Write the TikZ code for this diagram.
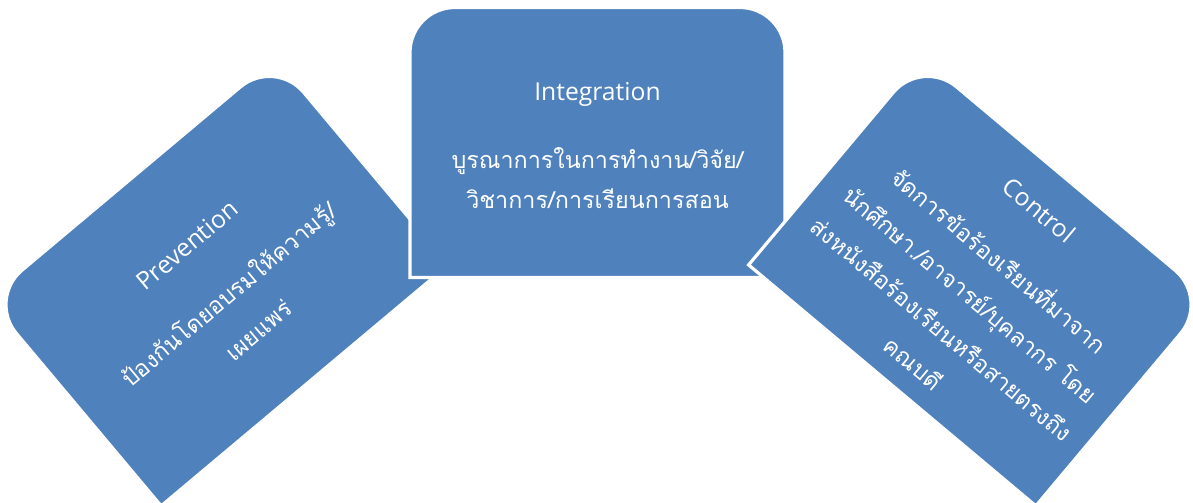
\documentclass[tikz,border=0pt]{standalone}
\usepackage{fontspec}
\setmainfont{Open Sans}
\newfontfamily\thaifont[Script=Thai]{Loma}
\definecolor{segblue}{HTML}{4F81BD}

% one segment: width 375, height 270, top corners rounded
\newcommand{\segpath}{(-187.5,-135) -- (-187.5,90) arc[start angle=180, end angle=90, radius=45]
  -- (142.5,135) arc[start angle=90, end angle=0, radius=45] -- (187.5,-135) -- cycle}

\begin{document}
\begin{tikzpicture}[
    x=0.75pt, y=0.75pt,
    segment/.style={draw=white, line width=2.4pt, fill=segblue},
    heading/.style={text=white, inner sep=0pt, transform shape, font=\fontsize{18.5}{22}\selectfont},
    body/.style={text=white, inner sep=0pt, align=center, transform shape, font=\thaifont\fontsize{17.5}{32}\selectfont}
]
\useasboundingbox (0,0) rectangle (1193,503);

% Prevention (left, turned up)
\begin{scope}[shift={(218,221)}, rotate=40]
  \draw[segment] \segpath;
  \node[heading] (prevTitle) at (0,48) {Prevention};
  \node[body, font=\thaifont\fontsize{17.5}{35}\selectfont] (prevText) at (0,-38) {ป้องกันโดยอบรมให้ความรู้/\\เผยแพร่};
\end{scope}

% Integration (middle)
\begin{scope}[shift={(597.5,360.5)}]
  \draw[segment] \segpath;
  \node[heading] (intTitle) at (0,48) {Integration};
  \node[body, font=\thaifont\fontsize{17.5}{30}\selectfont] (intText) at (0,-36) {บูรณาการในการทำงาน/วิจัย/\\วิชาการ/การเรียนการสอน};
\end{scope}

% Control (right, turned down)
\begin{scope}[shift={(979,221)}, rotate=-40]
  \draw[segment] \segpath;
  \node[heading] (ctrlTitle) at (0,94) {Control};
  \node[body, font=\thaifont\fontsize{17.5}{33.5}\selectfont] (ctrlText) at (2,-35) {จัดการข้อร้องเรียนที่มาจาก\\นักศึกษา./อาจารย์/บุคลากร โดย\\ส่งหนังสือร้องเรียนหรือสายตรงถึง\\คณบดี};
\end{scope}

\end{tikzpicture}
\end{document}
